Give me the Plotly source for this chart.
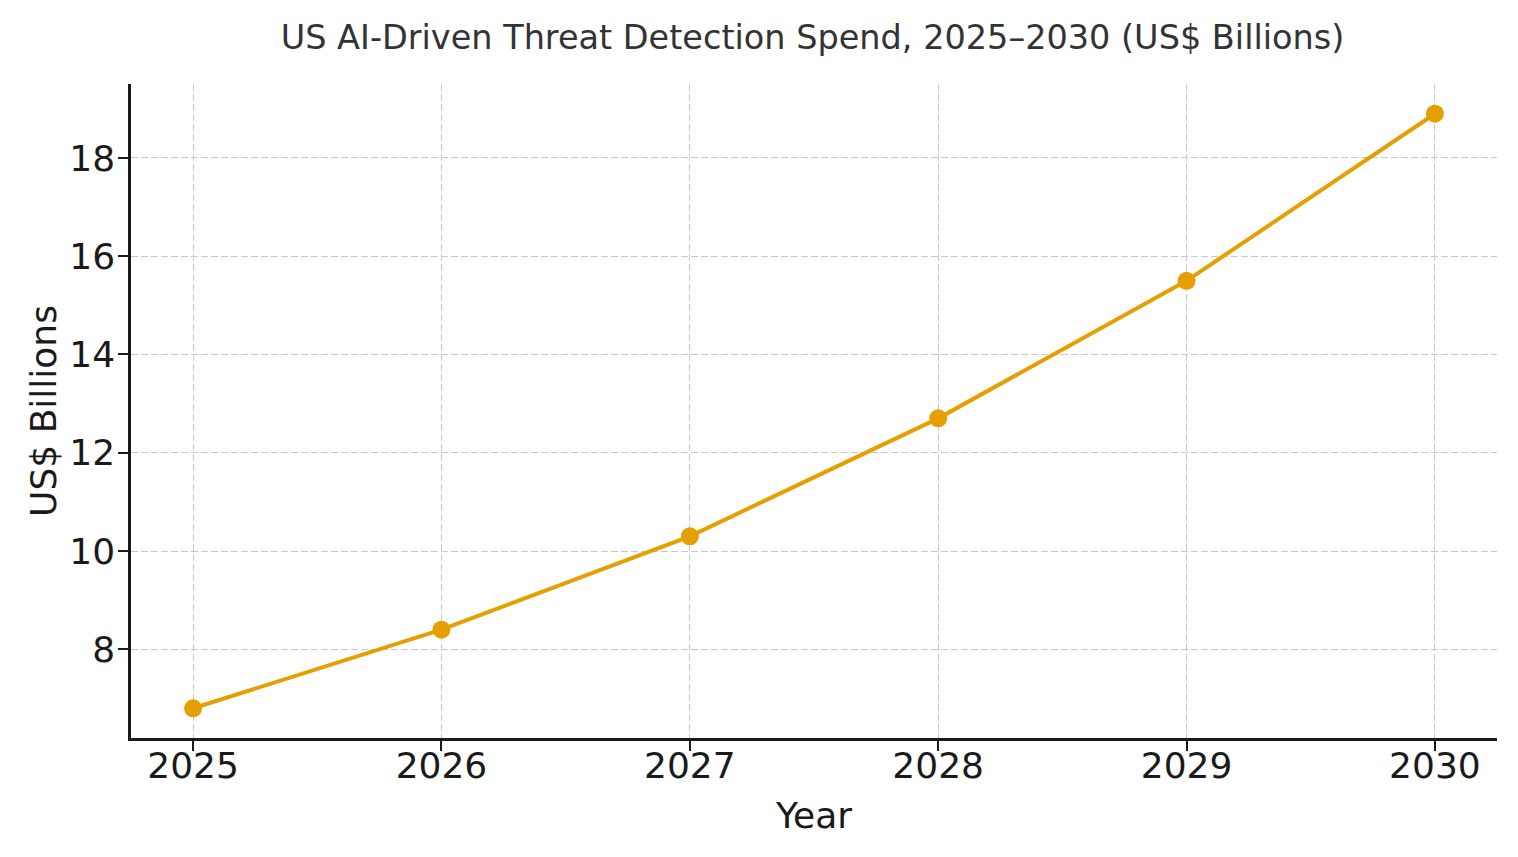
import plotly.graph_objects as go

# data
years = [2025, 2026, 2027, 2028, 2029, 2030]
spend = [6.8, 8.4, 10.3, 12.7, 15.5, 18.9]
y_ticks = [8, 10, 12, 14, 16, 18]

title_text = "US AI-Driven Threat Detection Spend, 2025\u20132030 (US$ Billions)"
line_color = "#E69F00"
font_family = "DejaVu Sans"

fig = go.Figure()
fig.add_trace(go.Scatter(
    x=years,
    y=spend,
    mode="lines+markers",
    line=dict(color=line_color, width=4),
    marker=dict(color=line_color, size=18),
    showlegend=False,
))

# page body adds ~8px offset, so margins are shifted to compensate
fig.update_layout(
    width=1518,
    height=857,
    margin=dict(l=123, r=29, t=76, b=127),
    paper_bgcolor="white",
    plot_bgcolor="white",
    font=dict(family=font_family, color="#1a1a1a", size=30),
    title=dict(
        text=title_text,
        x=804.5 / 1518,
        xanchor="center",
        y=1 - 29 / 857,
        yref="container",
        yanchor="middle",
        font=dict(size=33.5, color="#333333"),
    ),
)

axis_style = dict(
    ticks="outside",
    ticklen=10,
    tickwidth=2,
    tickcolor="#1a1a1a",
    tickfont=dict(size=36),
    showline=True,
    linecolor="#1a1a1a",
    linewidth=2.5,
    showgrid=True,
    gridcolor="#c8c8c8",
    gridwidth=1.3,
    griddash="7px,3px",
    zeroline=False,
)

fig.update_xaxes(
    title=dict(text="Year", standoff=18, font=dict(size=36)),
    range=[2024.75, 2030.25],
    tickvals=years,
    ticktext=[str(y) for y in years],
    ticklabelstandoff=-16,
    **axis_style,
)

fig.update_yaxes(
    title=dict(text="US$ Billions", standoff=2, font=dict(size=36)),
    range=[6.195, 19.505],
    tickvals=y_ticks,
    ticklabelstandoff=-4,
    **axis_style,
)

fig.write_html("out.html")
